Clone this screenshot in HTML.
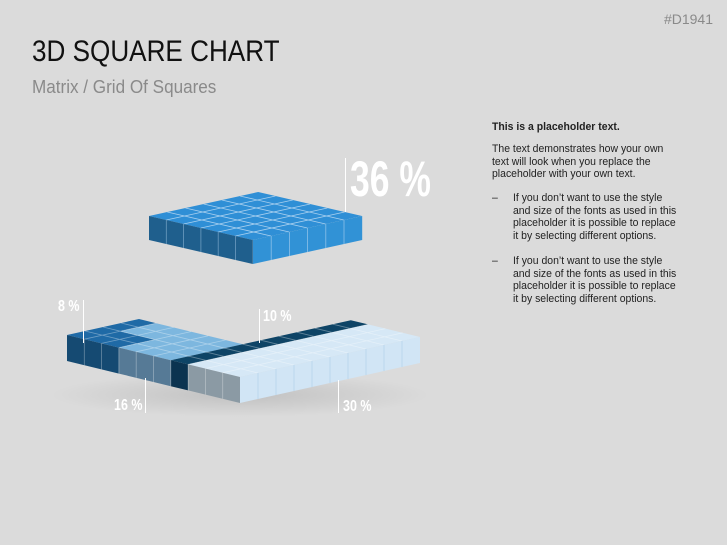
<!DOCTYPE html>
<html><head><meta charset="utf-8"><style>
html,body{margin:0;padding:0;}
body{width:727px;height:545px;background:#dbdbdb;position:relative;overflow:hidden;font-family:"Liberation Sans",sans-serif;}
.t{position:absolute;white-space:nowrap;transform-origin:0 0;}
.lbl{position:absolute;color:#fff;font-family:"Liberation Sans",sans-serif;transform-origin:0 0;white-space:nowrap;}
.tx{position:absolute;left:492px;font-size:11px;line-height:12.5px;color:#222;white-space:nowrap;transform:scaleX(0.95);transform-origin:0 0;}
</style></head><body>
<div class="t" style="right:14px;top:11px;font-size:14px;color:#8a8a8a;">#D1941</div>
<div class="t" style="left:32px;top:35px;font-size:30px;color:#111;transform:scaleX(0.87);">3D SQUARE CHART</div>
<div class="t" style="left:32px;top:77px;font-size:18px;color:#8a8a8a;transform:scaleX(0.95);">Matrix / Grid Of Squares</div>
<div class="tx" style="top:121px;font-weight:bold;">This is a placeholder text.</div>
<div class="tx" style="top:143px;">The text demonstrates how your own<br>text will look when you replace the<br>placeholder with your own text.</div>
<div class="tx" style="top:192px;">–</div>
<div class="tx" style="top:192px;left:513px;">If you don’t want to use the style<br>and size of the fonts as used in this<br>placeholder it is possible to replace<br>it by selecting different options.</div>
<div class="tx" style="top:255px;">–</div>
<div class="tx" style="top:255px;left:513px;">If you don’t want to use the style<br>and size of the fonts as used in this<br>placeholder it is possible to replace<br>it by selecting different options.</div>
<svg width="727" height="545" style="position:absolute;left:0;top:0">
<defs><radialGradient id="sh"><stop offset="0" stop-color="#000" stop-opacity="0.12"/><stop offset="1" stop-color="#000" stop-opacity="0"/></radialGradient></defs>
<ellipse cx="240" cy="395" rx="190" ry="22" fill="url(#sh)"/>
<g transform="matrix(17.3 4 18.2 -4 149 216)">
<polygon points="0,0 6,0 6,6 0,6" fill="#2f8fd6"/>
<path d="M0 1H6M0 2H6M0 3H6M0 4H6M0 5H6M1 0V6M2 0V6M3 0V6M4 0V6M5 0V6" stroke="#a9d0ef" stroke-width="0.8" vector-effect="non-scaling-stroke" fill="none"/>
</g>
<g transform="matrix(17.3 4 0 24 149 216)">
<polygon points="0,0 6,0 6,1 0,1" fill="#1f5f8d"/>
<path d="M1 0V1M2 0V1M3 0V1M4 0V1M5 0V1" stroke="#6d9cc0" stroke-width="0.8" vector-effect="non-scaling-stroke"/>
</g>
<g transform="matrix(18.2 -4 0 24 253 240)">
<polygon points="0,0 6,0 6,1 0,1" fill="#3192d6"/>
<path d="M1 0V1M2 0V1M3 0V1M4 0V1M5 0V1" stroke="#8cc0e8" stroke-width="0.8" vector-effect="non-scaling-stroke"/>
</g>
<g transform="matrix(17.3 4.2 18 -4 67 335)">
<polygon points="0,0 0,4 1,4 1,2 3,2 3,0" fill="#1f6aa6"/>
<polygon points="1,4 6,4 6,0 3,0 3,2 1,2" fill="#7db7df"/>
<polygon points="6,0 7,0 7,10 6,10" fill="#0e4466"/>
<polygon points="7,0 10,0 10,10 7,10" fill="#d6e8f6"/>
<path d="M0 1H6M0 2H6M0 3H6M6 1H10M6 2H10M6 3H10M6 4H10M6 5H10M6 6H10M6 7H10M6 8H10M6 9H10M1 0V4M2 0V4M3 0V4M4 0V4M5 0V4M7 0V10M8 0V10M9 0V10" stroke="#ffffff" stroke-opacity="0.35" stroke-width="0.8" vector-effect="non-scaling-stroke" fill="none"/>
</g>
<g transform="matrix(17.3 4.2 0 26 67 335)">
<polygon points="0,0 3,0 3,1 0,1" fill="#154a72"/>
<polygon points="3,0 6,0 6,1 3,1" fill="#567a96"/>
<polygon points="6,0 7,0 7,1 6,1" fill="#0b3350"/>
<polygon points="7,0 10,0 10,1 7,1" fill="#8b9aa4"/>
<path d="M1 0V1M2 0V1M3 0V1M4 0V1M5 0V1M6 0V1M7 0V1M8 0V1M9 0V1" stroke="#ffffff" stroke-opacity="0.35" stroke-width="0.8" vector-effect="non-scaling-stroke"/>
</g>
<g transform="matrix(18 -4 0 26 240 377)">
<polygon points="0,0 10,0 10,1 0,1" fill="#d1e5f5"/>
<path d="M1 0V1M2 0V1M3 0V1M4 0V1M5 0V1M6 0V1M7 0V1M8 0V1M9 0V1" stroke="#b5d3ec" stroke-width="0.8" vector-effect="non-scaling-stroke"/>
</g>
<g stroke="#ffffff" stroke-width="1">
<line x1="345.5" y1="158" x2="345.5" y2="212"/>
<line x1="83.5" y1="300" x2="83.5" y2="343"/>
<line x1="259.5" y1="309" x2="259.5" y2="343"/>
<line x1="145.5" y1="378" x2="145.5" y2="413"/>
<line x1="338.5" y1="380" x2="338.5" y2="413"/>
</g>
</svg>
<div class="lbl" style="left:350px;top:150px;font-size:50px;font-weight:bold;transform:scaleX(0.71);">36 %</div>
<div class="lbl" style="left:58px;top:298px;font-size:16px;font-weight:bold;transform:scaleX(0.78);">8 %</div>
<div class="lbl" style="left:263px;top:308px;font-size:16px;font-weight:bold;transform:scaleX(0.78);">10 %</div>
<div class="lbl" style="left:114px;top:397px;font-size:16px;font-weight:bold;transform:scaleX(0.78);">16 %</div>
<div class="lbl" style="left:343px;top:398px;font-size:16px;font-weight:bold;transform:scaleX(0.78);">30 %</div>
</body></html>
